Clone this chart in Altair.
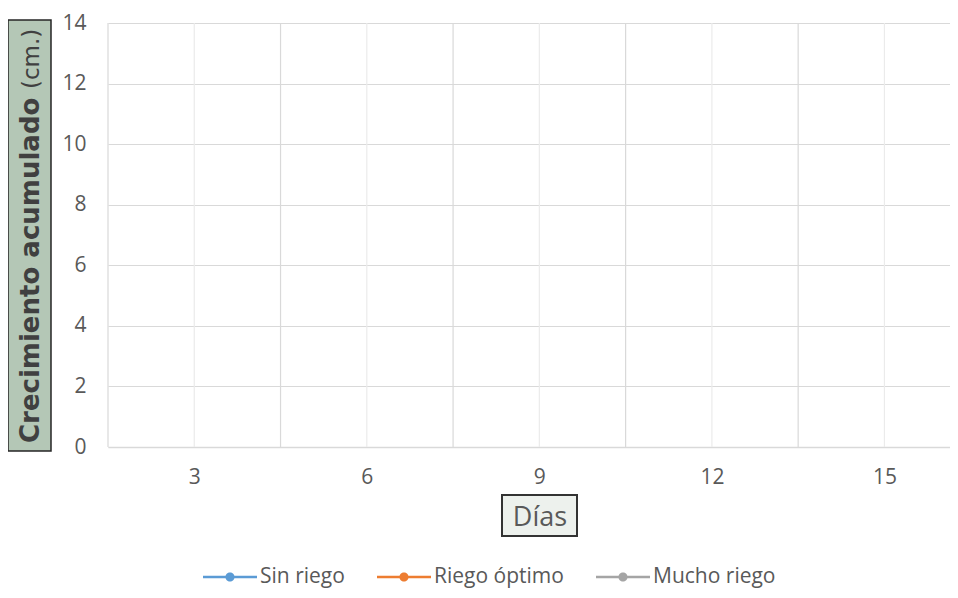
import altair as alt
import pandas as pd

# ---- data -------------------------------------------------------------
days = [3, 6, 9, 12, 15]
series = ["Sin riego", "Riego óptimo", "Mucho riego"]
colors = ["#5B9BD5", "#ED7D31", "#A5A5A5"]
sin_riego = [None, None, None, None, None]
riego_optimo = [None, None, None, None, None]
mucho_riego = [None, None, None, None, None]
y_ticks = [0, 2, 4, 6, 8, 10, 12, 14]

rows = []
for name, vals in zip(series, [sin_riego, riego_optimo, mucho_riego]):
    for d, v in zip(days, vals):
        rows.append({"dia": d, "serie": name, "valor": v})
df = pd.DataFrame(rows)
days_df = pd.DataFrame({"dia": days})
one = pd.DataFrame({"k": [0]})

FONT = "Open Sans"
x_scale = alt.Scale(domain=[1.5, 16.14], nice=False, zero=False)
y_scale = alt.Scale(domain=[0, 14], nice=False)

x_axis = alt.Axis(
    values=days,
    title=None,
    grid=False,
    ticks=False,
    tickSize=0,
    domain=True,
    domainColor="#D9D9D9",
    domainWidth=1.5,
    labelFont=FONT,
    labelFontSize=21,
    labelColor="#595959",
    labelPadding=19,
    format="d",
)
y_axis = alt.Axis(
    values=y_ticks,
    title=None,
    grid=True,
    gridColor="#D9D9D9",
    gridWidth=1.2,
    ticks=False,
    tickSize=0,
    domain=False,
    labelFont=FONT,
    labelFontSize=21,
    labelColor="#595959",
    labelPadding=22,
)

legend = alt.Legend(
    title=None,
    orient="none",
    legendX=95,
    legendY=527,
    direction="horizontal",
    symbolType="M-1,-0.05L1,-0.05L1,0.05L-1,0.05Z M-0.17,0A0.17,0.17,0,1,1,0.17,0A0.17,0.17,0,1,1,-0.17,0Z",
    symbolSize=2916,
    symbolStrokeWidth=0,
    labelFont=FONT,
    labelFontSize=21,
    labelColor="#595959",
    labelOffset=3,
    columnPadding=32,
    padding=0,
)
color_enc = alt.Color(
    "serie:N",
    scale=alt.Scale(domain=series, range=colors),
    sort=series,
    legend=legend,
)

# vertical grid lines at category borders and centres
border_lines = (
    alt.Chart(days_df)
    .transform_calculate(borde="datum.dia - 1.5")
    .mark_rule(color="#D9D9D9", strokeWidth=1.2)
    .encode(x=alt.X("borde:Q", scale=x_scale, axis=x_axis))
)
centre_lines = (
    alt.Chart(days_df)
    .mark_rule(color="#EBEBEB", strokeWidth=1.2)
    .encode(x=alt.X("dia:Q", scale=x_scale, axis=x_axis))
)

points = (
    alt.Chart(df)
    .mark_point(filled=True, opacity=1, size=80)
    .encode(
        x=alt.X("dia:Q", scale=x_scale, axis=x_axis),
        y=alt.Y("valor:Q", scale=y_scale, axis=y_axis),
        color=color_enc,
    )
)
lines = (
    alt.Chart(df)
    .mark_line(strokeWidth=2.5)
    .encode(
        x=alt.X("dia:Q", scale=x_scale, axis=x_axis),
        y=alt.Y("valor:Q", scale=y_scale, axis=y_axis),
        color=color_enc,
    )
)

# y title box
ybox = alt.Chart(one).mark_rect(fill="#B4C7B6", stroke="#262626", strokeWidth=1.5).encode(
    x=alt.value(-100), x2=alt.value(-57), y=alt.value(-3), y2=alt.value(428)
)
ytitle_bold = alt.Chart(one).mark_text(
    angle=270, align="left", baseline="alphabetic", font="DejaVu Sans",
    fontWeight="bold", fontSize=26, color="#404040", text="Crecimiento acumulado"
).encode(x=alt.value(-69), y=alt.value(420))
ytitle_unit = alt.Chart(one).mark_text(
    angle=270, align="left", baseline="alphabetic", font="DejaVu Sans",
    fontWeight="normal", fontSize=23, color="#404040", text="(cm.)"
).encode(x=alt.value(-69), y=alt.value(66))

# x title box
xbox = alt.Chart(one).mark_rect(fill="#EDF1ED", stroke="#333333", strokeWidth=2).encode(
    x=alt.value(394), x2=alt.value(469), y=alt.value(472), y2=alt.value(513)
)
xtitle = alt.Chart(one).mark_text(
    align="center", baseline="middle", font=FONT, fontSize=27, color="#595959", text="Días"
).encode(x=alt.value(432), y=alt.value(495))

chart = (
    alt.layer(centre_lines, border_lines, lines, points, ybox, ytitle_bold, ytitle_unit, xbox, xtitle)
    .properties(
        width=842,
        height=424,
        autosize=alt.AutoSizeParams(type="none"),
        padding={"left": 100, "top": 15, "right": 0, "bottom": 143},
        background="white",
    )
    .configure_view(stroke=None)
)

chart.save("out.html", embed_options={"renderer": "svg", "actions": False})
